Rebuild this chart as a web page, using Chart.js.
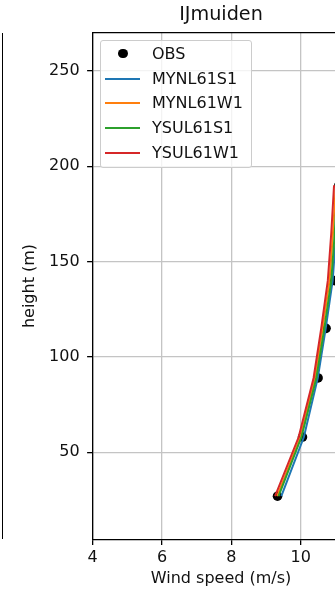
<!DOCTYPE html>
<html>
<head>
<meta charset="utf-8">
<title>IJmuiden wind profile</title>
<script src="https://cdn.jsdelivr.net/npm/chart.js@4.4.1/dist/chart.umd.min.js"></script>
<style>
  html, body { margin: 0; padding: 0; background: #fff; overflow: hidden; }
  #view { position: relative; width: 335px; height: 590px; overflow: hidden; background: #fff; }
  #plot { position: absolute; left: 0; top: 0; }
  #neighbour { position: absolute; left: 0; top: 33px; width: 2px; height: 506px; border-right: 1px solid #000; }
  #legend { position: absolute; box-sizing: border-box; width: 152px; height: 128px;
            border: 1px solid #cccccc; border-radius: 3px; background: rgba(255,255,255,0.8);
            font: 16px "DejaVu Sans", sans-serif; color: #111; }
  #legend .row { position: absolute; left: 0; right: 0; height: 25px; }
  #legend .txt { position: absolute; left: 51px; top: 0; line-height: 25px; white-space: nowrap; }
  #legend .line { position: absolute; left: 4px; width: 35px; height: 2px; top: 11.5px; }
  #legend .dot { position: absolute; left: 17px; top: 7.7px; width: 9.6px; height: 9.6px; border-radius: 50%; background: #000; }
</style>
</head>
<body>
<div id="view">
  <div id="neighbour"></div>
  <canvas id="plot" width="360" height="590"></canvas>
  <div id="legend"></div>
</div>
<script>
// Measurement heights (m)
const obsHeight = [27, 58, 89, 115, 140, 165, 190];
const modelHeight = [27, 58, 89, 115, 140, 165, 190];

// Observed wind speed (m/s)
const obsWind = [9.33, 10.05, 10.5, 10.73, 10.98, 11.22, 11.1];

// Model runs, wind speed (m/s) at modelHeight
const mynl61s1 = [9.44, 10.09, 10.49, 10.72, 10.92, 11.02, 11.10];
const mynl61w1 = [9.32, 9.99, 10.41, 10.63, 10.83, 10.93, 11.01];
const ysul61s1 = [9.36, 10.02, 10.45, 10.68, 10.88, 10.98, 11.06];
const ysul61w1 = [9.26, 9.94, 10.37, 10.59, 10.78, 10.88, 10.96];

const seriesNames = ['MYNL61S1', 'MYNL61W1', 'YSUL61S1', 'YSUL61W1'];
const seriesColors = ['#1f77b4', '#ff7f0e', '#2ca02c', '#d62728'];
const seriesWind = [mynl61s1, mynl61w1, ysul61s1, ysul61w1];

// Axis ticks
const xTicks = [4, 6, 8, 10];
const yTicks = [50, 100, 150, 200, 250];

const FONT = '"DejaVu Sans", sans-serif';
const TEXT = '#111';
const GRID = '#c4c4c4';

const toPoints = (xs, ys) => xs.map((x, i) => ({ x: x, y: ys[i] }));

const datasets = [
  {
    label: 'OBS',
    data: toPoints(obsWind, obsHeight),
    showLine: false,
    pointRadius: 4.8,
    pointBackgroundColor: '#000',
    pointBorderWidth: 0,
    order: 4
  }
].concat(seriesNames.map((name, k) => ({
  label: name,
  data: toPoints(seriesWind[k], modelHeight),
  showLine: true,
  borderColor: seriesColors[k],
  backgroundColor: seriesColors[k],
  borderWidth: 2,
  pointRadius: 0,
  tension: 0,
  fill: false,
  order: 3 - k
})));

// top and right spines of the axes box
const axesFrame = {
  id: 'axesFrame',
  afterDatasetsDraw(chart) {
    const { ctx, chartArea: a } = chart;
    ctx.save();
    ctx.strokeStyle = '#000';
    ctx.lineWidth = 1.3;
    ctx.beginPath();
    ctx.moveTo(a.left, a.top);
    ctx.lineTo(a.right, a.top);
    ctx.lineTo(a.right, a.bottom);
    ctx.stroke();
    ctx.restore();
  }
};

const chart = new Chart(document.getElementById('plot'), {
  type: 'scatter',
  data: { datasets: datasets },
  plugins: [axesFrame],
  options: {
    responsive: false,
    devicePixelRatio: 1,
    animation: false,
    layout: { padding: { left: 0, top: 0, right: 10.7, bottom: 0 } },
    plugins: {
      legend: { display: false },
      tooltip: { enabled: false },
      title: {
        display: true,
        text: 'IJmuiden',
        fullSize: false,
        color: TEXT,
        font: { family: FONT, size: 19.2, weight: 'normal' },
        padding: { top: 3.8, bottom: 5.86 }
      }
    },
    scales: {
      x: {
        type: 'linear',
        min: 4,
        max: 11.4,
        afterBuildTicks: s => { s.ticks = xTicks.map(v => ({ value: v })); },
        afterFit: s => { s.height = 50.7; },
        grid: { color: GRID, lineWidth: 1.3, tickColor: '#000', tickLength: 5.6, tickWidth: 1.3 },
        border: { color: '#000', width: 1.3 },
        ticks: { color: TEXT, font: { family: FONT, size: 16 }, padding: 3, maxRotation: 0, includeBounds: false },
        title: { display: true, text: 'Wind speed (m/s)', color: TEXT, font: { family: FONT, size: 16 }, padding: { top: 0, bottom: 1.5 } }
      },
      y: {
        type: 'linear',
        min: 4.4,
        max: 270,
        afterBuildTicks: s => { s.ticks = yTicks.map(v => ({ value: v })); },
        afterFit: s => { s.width = 92.7; },
        grid: { color: GRID, lineWidth: 1.3, tickColor: '#000', tickLength: 5.6, tickWidth: 1.3 },
        border: { color: '#000', width: 1.3 },
        ticks: { color: TEXT, font: { family: FONT, size: 16 }, padding: 7.5, includeBounds: false },
        title: { display: true, text: 'height (m)', color: TEXT, font: { family: FONT, size: 16 }, padding: { top: 20.4, bottom: 0 } }
      }
    }
  }
});

// Legend box in the upper-left corner of the axes
(function buildLegend() {
  const box = document.getElementById('legend');
  const area = chart.chartArea;
  box.style.left = Math.round(area.left + 7.3) + 'px';
  box.style.top = Math.round(area.top + 7.3) + 'px';
  const entries = [{ name: 'OBS', dot: true }].concat(
    seriesNames.map((n, k) => ({ name: n, color: seriesColors[k] })));
  entries.forEach((e, i) => {
    const row = document.createElement('div');
    row.className = 'row';
    row.style.top = Math.round(24.7 * i) + 'px';
    const handle = document.createElement('span');
    if (e.dot) {
      handle.className = 'dot';
    } else {
      handle.className = 'line';
      handle.style.background = e.color;
    }
    const txt = document.createElement('span');
    txt.className = 'txt';
    txt.textContent = e.name;
    row.appendChild(handle);
    row.appendChild(txt);
    box.appendChild(row);
  });
})();
</script>
</body>
</html>
